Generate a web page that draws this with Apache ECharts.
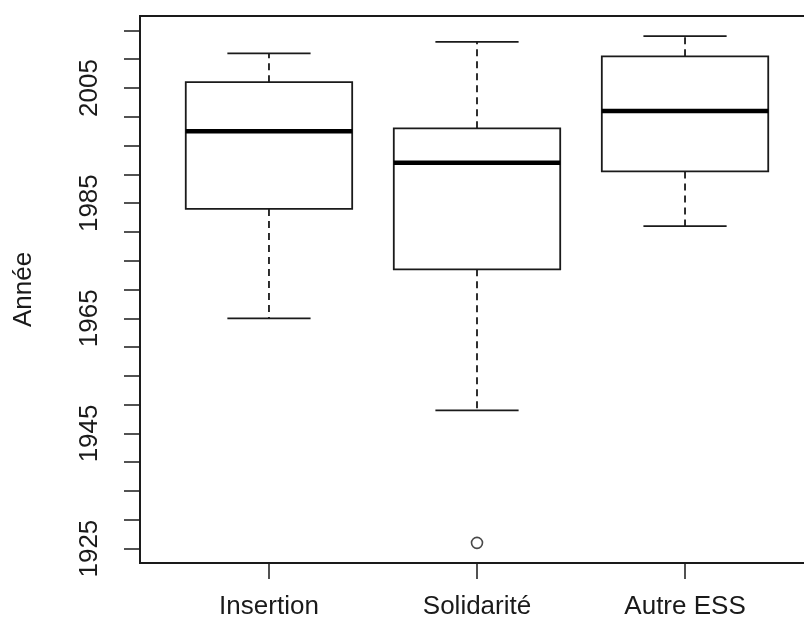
<!DOCTYPE html>
<html>
<head>
<meta charset="utf-8">
<script src="https://cdn.jsdelivr.net/npm/echarts@6/dist/echarts.min.js"></script>
<style>
  html, body { margin: 0; padding: 0; background: #fff; }
  #chart { width: 804px; height: 627px; }
</style>
</head>
<body>
<div id="chart"></div>
<script>
// groups on the x axis
const categories = ["Insertion", "Solidarité", "Autre ESS"];

// five-number summaries
const lowerWhisker = [1965, 1949, 1981];
const firstQuartile = [1984, 1973.5, 1990.5];
const medians = [1997.5, 1992, 2001];
const thirdQuartile = [2006, 1998, 2010.5];
const upperWhisker = [2011, 2013, 2014];

// points beyond the whiskers
const outlierGroup = [2];
const outlierYear = [1926];

// y axis ticks and labels
const yTicks = [1925, 1930, 1935, 1940, 1945, 1950, 1955, 1960, 1965, 1970, 1975, 1980, 1985, 1990, 1995, 2000, 2005, 2010, 2015];
const yLabels = [1925, 1945, 1965, 1985, 2005];
const xTicks = [1, 2, 3];

const ink = "#1a1a1a";
const font = "Liberation Sans, Arial, sans-serif";

const boxData = categories.map((c, i) => [
    i + 1, lowerWhisker[i], firstQuartile[i], medians[i], thirdQuartile[i], upperWhisker[i],
]);

function renderBox(params, api) {
    const x = api.value(0);
    const low = api.coord([x, api.value(1)]);
    const q1 = api.coord([x, api.value(2)]);
    const med = api.coord([x, api.value(3)]);
    const q3 = api.coord([x, api.value(4)]);
    const high = api.coord([x, api.value(5)]);
    const halfBox = api.size([0.4, 0])[0];
    const halfCap = api.size([0.2, 0])[0];
    const cx = low[0];
    const solid = { stroke: ink, lineWidth: 1.8, fill: null };
    const dashed = { stroke: ink, lineWidth: 1.8, lineDash: [7, 5], fill: null };
    return {
        type: "group",
        children: [
            { type: "line", shape: { x1: cx, y1: q3[1], x2: cx, y2: high[1] }, style: dashed },
            { type: "line", shape: { x1: cx, y1: q1[1], x2: cx, y2: low[1] }, style: dashed },
            { type: "line", shape: { x1: cx - halfCap, y1: high[1], x2: cx + halfCap, y2: high[1] }, style: solid },
            { type: "line", shape: { x1: cx - halfCap, y1: low[1], x2: cx + halfCap, y2: low[1] }, style: solid },
            {
                type: "rect",
                shape: { x: cx - halfBox, y: q3[1], width: halfBox * 2, height: q1[1] - q3[1] },
                style: { stroke: ink, lineWidth: 1.8, fill: "#fff" },
            },
            { type: "line", shape: { x1: cx - halfBox, y1: med[1], x2: cx + halfBox, y2: med[1] }, style: { stroke: "#000", lineWidth: 4.5 } },
        ],
    };
}

const chart = echarts.init(document.getElementById("chart"), null, { renderer: "canvas" });
chart.setOption({
    animation: false,
    backgroundColor: "#fff",
    // the plot frame runs past the right edge of the picture
    grid: {
        left: 140,
        width: 674,
        top: 16,
        bottom: 64,
        outerBoundsMode: "none",
        containLabel: false,
        show: true,
        borderColor: ink,
        borderWidth: 1.8,
        backgroundColor: "transparent",
    },
    xAxis: {
        type: "value",
        min: 0.38,
        max: 3.62,
        axisLine: { show: true, lineStyle: { color: ink, width: 1.8 } },
        axisTick: { show: true, length: 16, customValues: xTicks, lineStyle: { color: ink, width: 1.5 } },
        axisLabel: {
            customValues: xTicks,
            margin: 31,
            color: ink,
            fontSize: 26,
            fontFamily: font,
            formatter: (v) => categories[Math.round(v) - 1] || "",
        },
        splitLine: { show: false },
    },
    yAxis: {
        type: "value",
        min: 1922.5,
        max: 2017.5,
        name: "Année",
        nameLocation: "middle",
        nameRotate: 90,
        nameGap: 103,
        nameTextStyle: { color: ink, fontSize: 26, fontFamily: font },
        axisLine: { show: true, lineStyle: { color: ink, width: 1.8 } },
        axisTick: { show: true, length: 16, customValues: yTicks, lineStyle: { color: ink, width: 1.5 } },
        axisLabel: {
            customValues: yLabels,
            rotate: 90,
            margin: 37,
            color: ink,
            fontSize: 26,
            fontFamily: font,
            formatter: (v) => String(v),
        },
        splitLine: { show: false },
    },
    series: [
        {
            type: "custom",
            renderItem: renderBox,
            data: boxData,
            encode: { x: 0, y: [1, 2, 3, 4, 5] },
            z: 2,
        },
        {
            type: "scatter",
            data: outlierGroup.map((g, i) => [g, outlierYear[i]]),
            symbol: "circle",
            symbolSize: 11,
            itemStyle: { color: "#fff", borderColor: ink, borderWidth: 1.6 },
            z: 3,
        },
    ],
});
</script>
</body>
</html>
